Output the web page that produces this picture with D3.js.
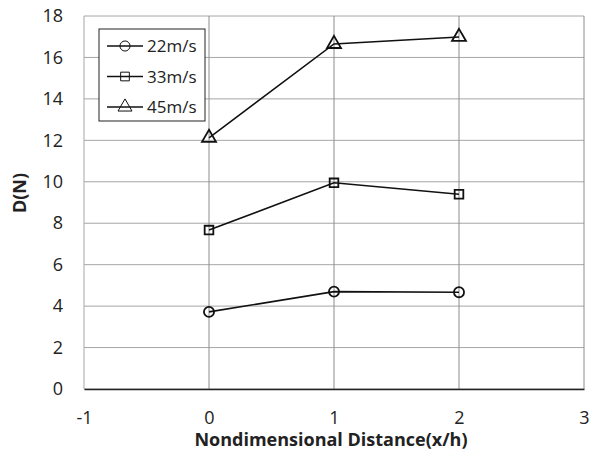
<!DOCTYPE html>
<html>
<head>
<meta charset="utf-8">
<script src="https://cdn.jsdelivr.net/npm/d3@7"></script>
<style>
  body { margin: 0; background: #fff; }
  text { font-family: "Open Sans", "Noto Sans", sans-serif; fill: #222; }
</style>
</head>
<body>
<svg id="chart" width="597" height="451"></svg>
<script>
// data
const distances = [0, 1, 2];
const series22 = [3.72, 4.7, 4.67];
const series33 = [7.67, 9.95, 9.4];
const series45 = [12.12, 16.65, 16.99];
const seriesNames = ['22m/s', '33m/s', '45m/s'];
const seriesSymbols = [d3.symbolCircle, d3.symbolSquare, d3.symbolTriangle];
const xTicks = [-1, 0, 1, 2, 3];
const yTicks = [0, 2, 4, 6, 8, 10, 12, 14, 16, 18];

const margin = { top: 16, right: 13, bottom: 62, left: 84 };
const width = 597, height = 451;
const innerW = width - margin.left - margin.right;
const innerH = height - margin.top - margin.bottom;

const svg = d3.select('#chart');
const g = svg.append('g').attr('transform', `translate(${margin.left},${margin.top})`);

const x = d3.scaleLinear().domain([-1, 3]).range([0, innerW]);
const y = d3.scaleLinear().domain([0, 18]).range([innerH, 0]);

// grid
g.append('g').selectAll('line.h').data(yTicks).enter().append('line')
  .attr('x1', 0).attr('x2', innerW)
  .attr('y1', d => y(d)).attr('y2', d => y(d))
  .attr('stroke', '#a6a6a6').attr('stroke-width', 1);
g.append('g').selectAll('line.v').data(xTicks).enter().append('line')
  .attr('x1', d => x(d)).attr('x2', d => x(d))
  .attr('y1', 0).attr('y2', innerH)
  .attr('stroke', d => d === -1 ? '#a6a6a6' : '#8c8c8c').attr('stroke-width', 1);

// axes
const xAxis = g.append('g').attr('transform', `translate(0,${innerH})`)
  .call(d3.axisBottom(x).tickValues(xTicks).tickSize(0).tickPadding(22).tickFormat(d => String(d)));
xAxis.select('.domain').attr('stroke', '#222').attr('stroke-width', 1.5);
xAxis.selectAll('text').attr('font-size', 18).style('fill', '#222');

const yAxis = g.append('g')
  .call(d3.axisLeft(y).tickValues(yTicks).tickSize(0).tickPadding(21));
yAxis.select('.domain').remove();
yAxis.selectAll('text').attr('font-size', 18).style('fill', '#222');

// axis titles
svg.append('text')
  .attr('x', margin.left + innerW / 2 - 3).attr('y', 446)
  .attr('text-anchor', 'middle').attr('font-size', 18).attr('font-weight', 'bold')
  .text('Nondimensional Distance(x/h)');
svg.append('text')
  .attr('transform', `translate(26,193) rotate(-90)`)
  .attr('text-anchor', 'middle').attr('font-size', 18).attr('font-weight', 'bold')
  .text('D(N)');

// series
const allSeries = [series22, series33, series45];
const line = d3.line().x((d, i) => x(distances[i])).y(d => y(d));
const symbolSizes = [80, 75, 85];

allSeries.forEach((vals, si) => {
  g.append('path').datum(vals)
    .attr('d', line).attr('fill', 'none')
    .attr('stroke', '#111').attr('stroke-width', 1.6);
  g.selectAll(null).data(vals).enter().append('path')
    .attr('d', d3.symbol().type(seriesSymbols[si]).size(symbolSizes[si]))
    .attr('transform', (d, i) => `translate(${x(distances[i])},${y(d)})`)
    .attr('fill', 'none').attr('stroke', '#111').attr('stroke-width', 1.8);
});

// legend
const legend = svg.append('g').attr('transform', 'translate(99,29)');
legend.append('rect').attr('width', 106).attr('height', 92)
  .attr('fill', '#fff').attr('stroke', '#222').attr('stroke-width', 1);
seriesNames.forEach((name, i) => {
  const ly = 17 + i * 30.5;
  legend.append('line').attr('x1', 8).attr('x2', 44).attr('y1', ly).attr('y2', ly)
    .attr('stroke', '#111').attr('stroke-width', 1.5);
  legend.append('path')
    .attr('d', d3.symbol().type(seriesSymbols[i]).size(symbolSizes[i]))
    .attr('transform', `translate(26,${ly})`)
    .attr('fill', 'none').attr('stroke', '#111').attr('stroke-width', 1);
  legend.append('text').attr('x', 48).attr('y', ly + 6)
    .attr('font-size', 17).text(name);
});
</script>
</body>
</html>
